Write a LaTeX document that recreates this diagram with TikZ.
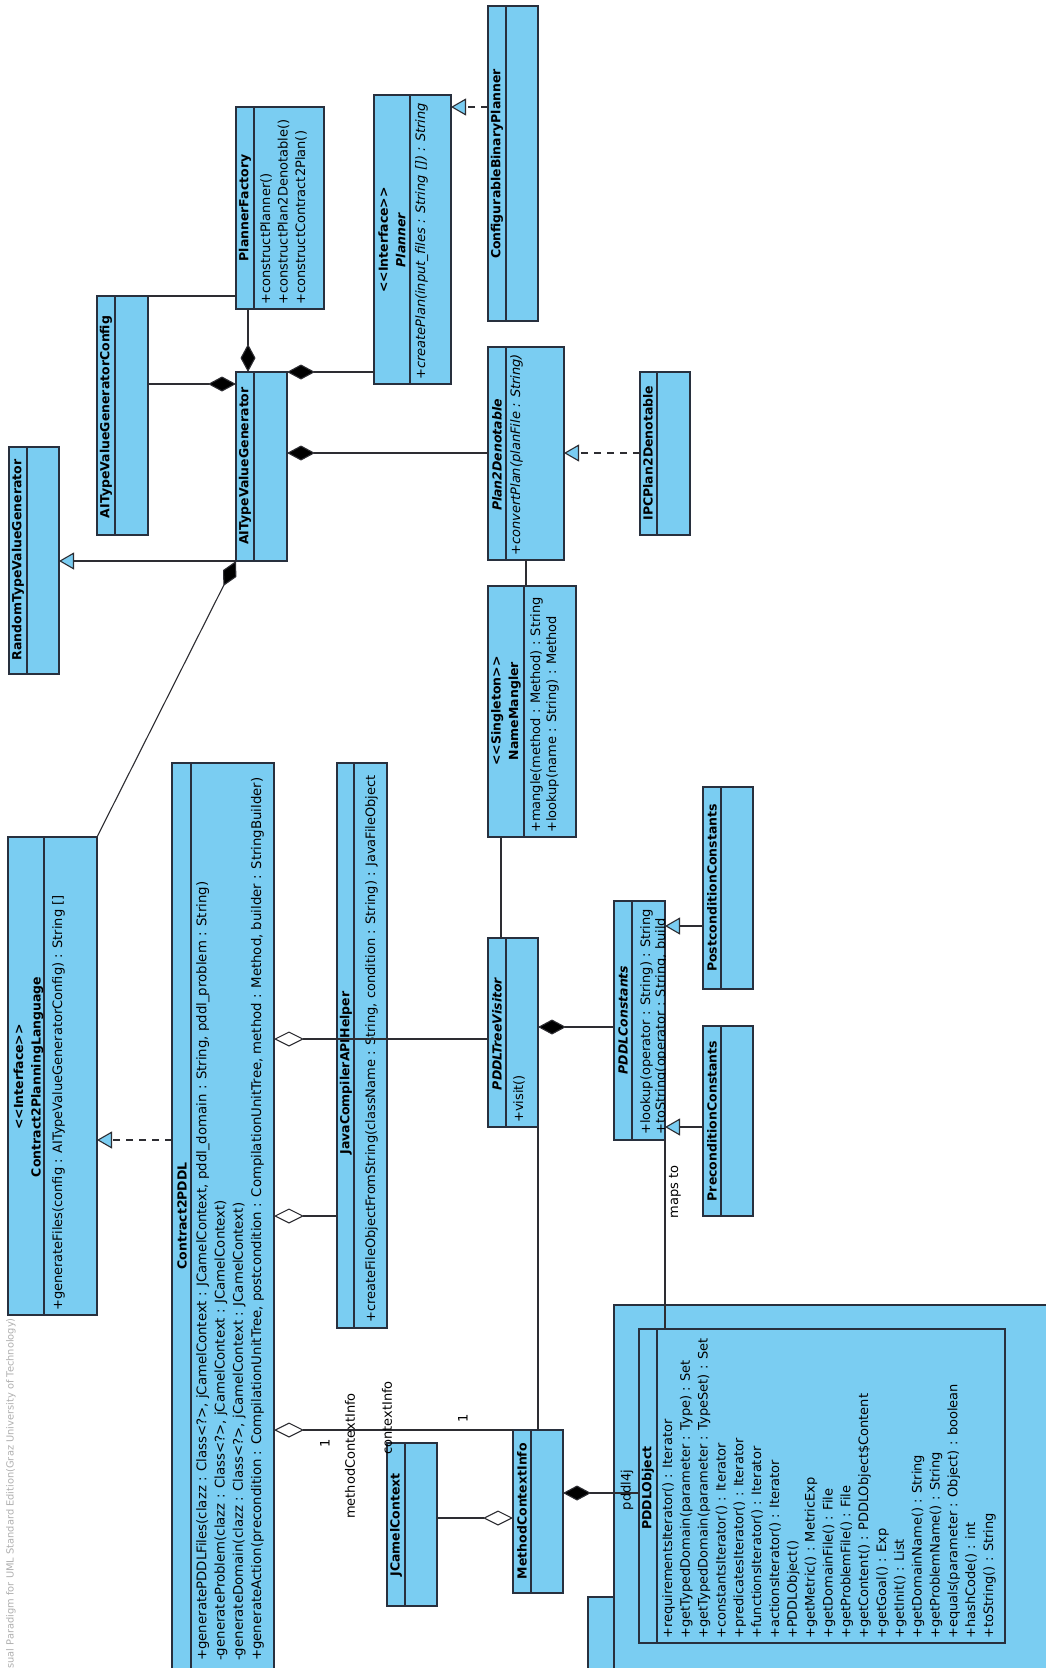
\documentclass[tikz,border=0pt]{standalone}
\usepackage{fontspec}
\setmainfont{DejaVu Sans}
\usetikzlibrary{arrows.meta}

\definecolor{clsfill}{RGB}{122,205,242}
\definecolor{clsdraw}{RGB}{40,48,62}
\definecolor{conncol}{RGB}{45,45,50}
\definecolor{wmark}{RGB}{175,175,175}

% stereotype brackets kept as plain characters
\newcommand\stereo[1]{<\kern0pt<#1>\kern0pt>}

% class box: name, x1, y1, x2, y2, x of the compartment separator
\newcommand\umlbox[6]{%
  \node[cls, minimum width={(#4)-(#2)}, minimum height={(#5)-(#3)}] (#1) at ({((#2)+(#4))/2},{((#3)+(#5))/2}) {};
  \draw[cls line] (#1.north -| #6,0) -- (#1.south -| #6,0);
}

\tikzset{
  cls/.style={draw=clsdraw, fill=clsfill, line width=1.4pt, inner sep=0pt, outer sep=0pt},
  cls line/.style={draw=clsdraw, line width=1.2pt},
  conn/.style={draw=conncol, line width=1.1pt},
  compo/.style={conn, {Diamond[length=28pt,width=15pt,fill=black]}-},
  aggr/.style={conn, {Diamond[length=30pt,width=15pt,fill=white]}-},
  gen/.style={conn, -{Triangle[length=15pt,width=17pt,fill=clsfill]}},
  real/.style={gen, dash pattern=on 7pt off 6pt},
  clsname/.style={rotate=90, inner sep=0pt, align=center, font=\fontsize{12.5}{17.5}\selectfont\bfseries},
  ops/.style={rotate=90, anchor=north west, inner sep=0pt, align=left, font=\fontsize{13}{#1}\selectfont},
  lbl/.style={rotate=90, inner sep=0pt, font=\fontsize{13}{15}\selectfont},
}

\begin{document}
\begin{tikzpicture}[x=1pt,y=-1pt]
\useasboundingbox (0,0) rectangle (1046,1668);
\clip (0,0) rectangle (1046,1668);

% tool watermark
\node[rotate=90, anchor=east, inner sep=0pt, text=wmark, font=\fontsize{9.85}{12}\selectfont] (watermark) at (11,1318)
  {Visual Paradigm for UML Standard Edition(Graz University of Technology)};

% package pddl4j with its tab
\node[cls, minimum width=26, minimum height=103] (pkgtab) at (601,1648.5) {};
\node[cls, minimum width=456, minimum height=395] (pkg) at (842,1502.5) {};

% class boxes
\umlbox{pf}{236}{107}{324}{309}{254}
\umlbox{cfg}{97}{296}{148}{535}{115}
\umlbox{aitvg}{236}{372}{287}{561}{254}
\umlbox{pl}{374}{95}{451}{384}{410}
\umlbox{cbp}{488}{6}{538}{321}{506}
\umlbox{p2d}{488}{347}{564}{560}{506}
\umlbox{ipc}{640}{372}{690}{535}{657}
\umlbox{nmg}{488}{586}{576}{837}{524}
\umlbox{rtvg}{9}{447}{59}{674}{27}
\umlbox{c2pl}{8}{837}{97}{1315}{44}
\umlbox{c2p}{172}{763}{274}{1700}{191}
\umlbox{jcah}{337}{763}{387}{1328}{354}
\umlbox{ptv}{488}{938}{538}{1127}{506}
\umlbox{pc}{614}{901}{665}{1140}{632}
\umlbox{post}{703}{787}{753}{989}{721}
\umlbox{pre}{703}{1026}{753}{1216}{721}
\umlbox{mci}{513}{1430}{563}{1593}{531}
\umlbox{jc}{387}{1443}{437}{1606}{405}
\umlbox{pobj}{639}{1329}{1005}{1643}{657}

% class names
\node[clsname] (pf-name) at (245,208) {PlannerFactory};
\node[clsname] (cfg-name) at (106,417) {AITypeValueGeneratorConfig};
\node[clsname] (aitvg-name) at (245,466) {AITypeValueGenerator};
\node[clsname] (pl-name) at (392,240) {\stereo{Interface}\\\itshape Planner};
\node[clsname] (cbp-name) at (497,164) {ConfigurableBinaryPlanner};
\node[clsname, font=\fontsize{12.5}{17.5}\selectfont\bfseries\itshape] (p2d-name) at (497,455) {Plan2Denotable};
\node[clsname] (ipc-name) at (648,453) {IPCPlan2Denotable};
\node[clsname] (nmg-name) at (506,711) {\stereo{Singleton}\\NameMangler};
\node[clsname] (rtvg-name) at (18,560) {RandomTypeValueGenerator};
\node[clsname] (c2pl-name) at (28.5,1077) {\stereo{Interface}\\Contract2PlanningLanguage};
\node[clsname] (c2p-name) at (182,1216) {Contract2PDDL};
\node[clsname] (jcah-name) at (346,1073) {JavaCompilerAPIHelper};
\node[clsname, font=\fontsize{12.5}{17.5}\selectfont\bfseries\itshape] (ptv-name) at (497,1034) {PDDLTreeVisitor};
\node[clsname, font=\fontsize{12.5}{17.5}\selectfont\bfseries\itshape] (pc-name) at (623,1020) {PDDLConstants};
\node[clsname] (post-name) at (712,888) {PostconditionConstants};
\node[clsname] (pre-name) at (712,1121) {PreconditionConstants};
\node[clsname] (mci-name) at (522,1511) {MethodContextInfo};
\node[clsname] (jc-name) at (396,1525) {JCamelContext};
\node[clsname] (pobj-name) at (648,1488) {PDDLObject};

% operations
\node[ops=17.5] (pf-ops) at (260,305) {+constructPlanner()\\+constructPlan2Denotable()\\+constructContract2Plan()};
\node[ops=18] (pl-ops) at (415,380) {\itshape +createPlan(input\_files : String []) : String};
\node[ops=18] (p2d-ops) at (510,556) {\itshape +convertPlan(planFile : String)};
\node[ops=16] (nmg-ops) at (530,833) {+mangle(method : Method) : String\\+lookup(name : String) : Method};
\node[ops=18] (c2pl-ops) at (52,1311) {+generateFiles(config : AITypeValueGeneratorConfig) : String []};
\node[ops=18, font=\fontsize{13.3}{18.3}\selectfont] (c2p-ops) at (196,1661) {+generatePDDLFiles(clazz : Class<?>, jCamelContext : JCamelContext, pddl\_domain : String, pddl\_problem : String)\\-generateProblem(clazz : Class<?>, jCamelContext : JCamelContext)\\-generateDomain(clazz : Class<?>, jCamelContext : JCamelContext)\\+generateAction(precondition : CompilationUnitTree, postcondition : CompilationUnitTree, method : Method, builder : StringBuilder)};
\node[ops=18] (jcah-ops) at (365,1323) {+createFileObjectFromString(className : String, condition : String) : JavaFileObject};
\node[ops=18] (ptv-ops) at (513,1123) {+visit()};
\begin{scope}
  \clip (614,901) rectangle (665,1140);
  \node[ops=15] (pc-ops) at (640,1135) {+lookup(operator : String) : String\\+toString(operator : String, build};
\end{scope}
\node[ops=17.83] (pobj-ops) at (662,1639) {+requirementsIterator() : Iterator\\+getTypedDomain(parameter : Type) : Set\\+getTypedDomain(parameter : TypeSet) : Set\\+constantsIterator() : Iterator\\+predicatesIterator() : Iterator\\+functionsIterator() : Iterator\\+actionsIterator() : Iterator\\+PDDLObject()\\+getMetric() : MetricExp\\+getDomainFile() : File\\+getProblemFile() : File\\+getContent() : PDDLObject\$Content\\+getGoal() : Exp\\+getInit() : List\\+getDomainName() : String\\+getProblemName() : String\\+equals(parameter : Object) : boolean\\+hashCode() : int\\+toString() : String};

% connectors
\draw[conn] (cfg.north east) -- (pf.west |- cfg.north east);
\draw[compo] (aitvg.west |- 0,384) -- (cfg.east |- 0,384);
\draw[compo] (aitvg.north -| 248,0) -- (pf.south -| 248,0);
\draw[compo] (aitvg.north east) -- (pl.west |- aitvg.north east);
\draw[compo] (aitvg.east |- 0,453) -- (p2d.west |- 0,453);
\draw[real] (cbp.west |- 0,107) -- (pl.east |- 0,107);
\draw[real] (ipc.west |- 0,453) -- (p2d.east |- 0,453);
\draw[conn] (p2d.south -| 526,0) -- (nmg.north -| 526,0);
\draw[gen] (aitvg.south west) -- (rtvg.east |- aitvg.south west);
\draw[compo] (aitvg.south west) -- (c2pl.north east);
\draw[real] (c2p.west |- 0,1140) -- (c2pl.east |- 0,1140);
\draw[aggr] (c2p.east |- 0,1039) -- (ptv.west |- 0,1039);
\draw[aggr] (c2p.east |- 0,1216) -- (jcah.west |- 0,1216);
\draw[aggr] (c2p.east |- mci.north west) -- (mci.north west);
\draw[conn] (ptv.south east) -- (mci.north -| ptv.south east);
\draw[aggr] (mci.west |- 0,1518) -- (jc.east |- 0,1518);
\draw[compo] (mci.east |- 0,1493) -- (pobj.west |- 0,1493);
\draw[conn] (ptv.north -| 501,0) -- (nmg.south -| 501,0);
\draw[compo] (ptv.east |- 0,1027) -- (pc.west |- 0,1027);
\draw[gen] (post.west |- 0,926) -- (pc.east |- 0,926);
\draw[gen] (pre.west |- 0,1127) -- (pc.east |- 0,1127);
\draw[conn] (pc.south east) -- (pobj.north -| pc.south east);

% association labels and package name
\node[lbl] (mci-mult) at (325,1443) {1};
\node[lbl] (mci-role) at (350,1456) {methodContextInfo};
\node[lbl] (jc-role) at (387,1418) {contextInfo};
\node[lbl] (c2p-mult) at (463,1418) {1};
\node[lbl] (mapsto) at (675,1192) {maps to};
\node[lbl] (pkg-name) at (627,1490) {pddl4j};
\end{tikzpicture}
\end{document}
